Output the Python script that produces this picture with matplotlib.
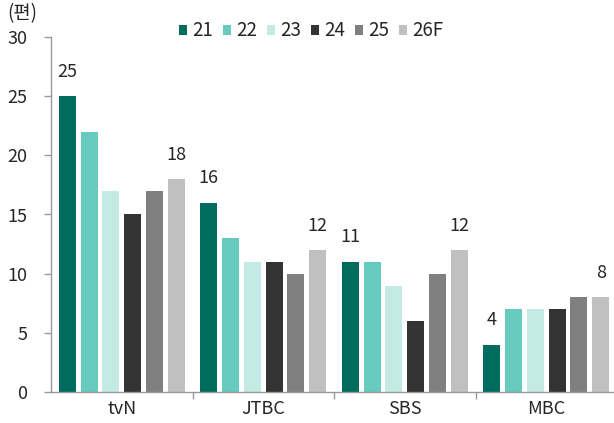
import matplotlib
matplotlib.use("Agg")
import matplotlib.pyplot as plt
import numpy as np

plt.rcParams['font.family'] = ['Noto Sans CJK KR', 'DejaVu Sans']

categories = ["tvN", "JTBC", "SBS", "MBC"]
series_names = ["21", "22", "23", "24", "25", "26F"]
v21 = [25, 16, 11, 4]
v22 = [22, 13, 11, 7]
v23 = [17, 11, 9, 7]
v24 = [15, 11, 6, 7]
v25 = [17, 10, 10, 8]
v26 = [18, 12, 12, 8]
series_values = [v21, v22, v23, v24, v25, v26]
colors = ["#006B5F", "#66CABE", "#C4EAE5", "#333333", "#808080", "#C0C0C0"]
labeled = [0, 5]

W, H = 614, 423
fig = plt.figure(figsize=(W / 100, H / 100), dpi=100)
left, right, top, bottom = 51, 614, 37, 392
ax = fig.add_axes([left / W, 1 - bottom / H, (right - left) / W, (bottom - top) / H])

x = np.arange(len(categories))
step = 0.154
width = 0.12
txtc = "#262626"
for i, (name, vals, c) in enumerate(zip(series_names, series_values, colors)):
    pos = x + (i - 2.5) * step
    bars = ax.bar(pos, vals, width=width, color=c, label=name, zorder=2)
    if i in labeled:
        for b, v in zip(bars, vals):
            ax.text(b.get_x() + b.get_width() / 2, v + 1.3, f"{v}", ha="center",
                    va="bottom", fontsize=13, color=txtc)

span = (right - left) / 141.5
ax.set_xlim(-0.5, -0.5 + span)
ax.set_ylim(0, 30)
ax.set_yticks(range(0, 31, 5))
ax.set_xticks(x)
ax.set_xticklabels(categories)
ax.set_xticks([0.5, 1.5, 2.5], minor=True)
ax.tick_params(axis='x', which='major', length=0, labelsize=13, labelcolor=txtc, pad=6)
ax.tick_params(axis='x', which='minor', length=5, color="#999999", width=1)
ax.tick_params(axis='y', length=5, color="#999999", width=1, labelsize=13, labelcolor=txtc, pad=12)
for s in ["top", "right"]:
    ax.spines[s].set_visible(False)
for s in ["left", "bottom"]:
    ax.spines[s].set_color("#999999")
    ax.spines[s].set_linewidth(1)

leg = ax.legend(loc="center", bbox_to_anchor=(0.462, 1.017), ncol=6, frameon=False,
                fontsize=13.5, handlelength=0.43, handleheight=0.43, handletextpad=0.25,
                columnspacing=0.55, borderaxespad=0)
for t in leg.get_texts():
    t.set_color(txtc)

fig.text(7 / W, 1 - 14 / H, "(편)", fontsize=13.5, color=txtc, va="center", ha="left")

fig.savefig("out.png", dpi=100)
